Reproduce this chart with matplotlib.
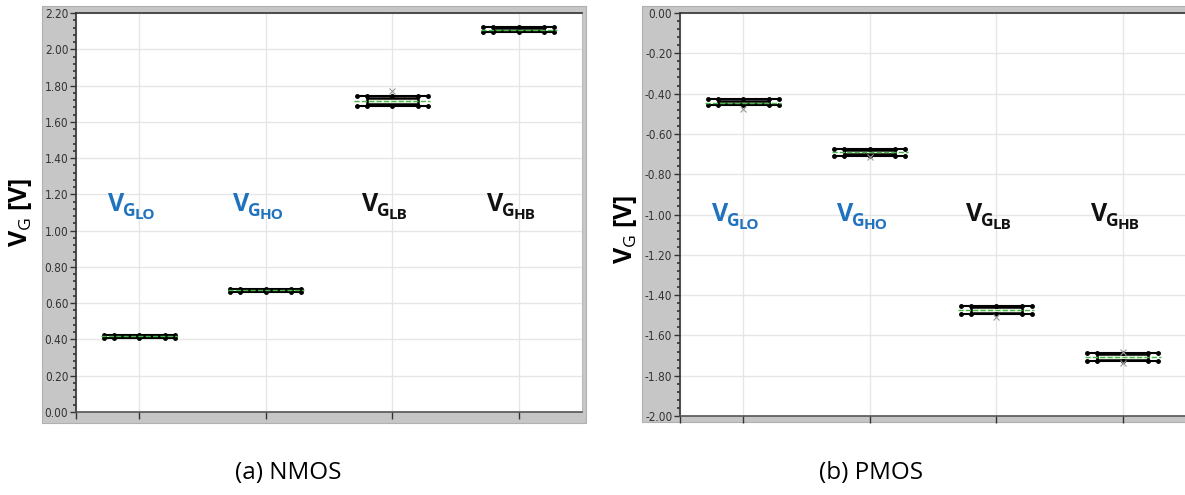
import matplotlib
matplotlib.use("Agg")
import matplotlib.pyplot as plt
from matplotlib.patches import Rectangle
from matplotlib.transforms import offset_copy
import numpy as np

plt.rcParams['mathtext.fontset'] = 'custom'
plt.rcParams['mathtext.rm'] = 'Open Sans'
plt.rcParams['mathtext.bf'] = 'Open Sans:bold'
plt.rcParams['mathtext.it'] = 'Open Sans:italic'

categories = ['LO', 'HO', 'LB', 'HB']
label_colors = ['#1f72bd', '#1f72bd', '#111111', '#111111']

nmos_min = [0.410, 0.662, 1.688, 2.093]
nmos_q1 = [0.414, 0.666, 1.698, 2.100]
nmos_med = [0.418, 0.670, 1.716, 2.108]
nmos_q3 = [0.422, 0.674, 1.734, 2.116]
nmos_max = [0.426, 0.678, 1.744, 2.123]
nmos_out = [[], [], [1.772], []]

pmos_min = [-0.458, -0.708, -1.494, -1.726]
pmos_q1 = [-0.452, -0.702, -1.488, -1.720]
pmos_med = [-0.445, -0.692, -1.474, -1.706]
pmos_q3 = [-0.437, -0.682, -1.460, -1.692]
pmos_max = [-0.427, -0.676, -1.454, -1.686]
pmos_out = [[-0.478], [-0.716], [-1.508], [-1.682, -1.738]]

nmos_yticks = [0.0, 0.2, 0.4, 0.6, 0.8, 1.0, 1.2, 1.4, 1.6, 1.8, 2.0, 2.2]
pmos_yticks = [-2.0, -1.8, -1.6, -1.4, -1.2, -1.0, -0.8, -0.6, -0.4, -0.2, 0.0]

W, H = 1185, 495
fig = plt.figure(figsize=(W / 100, H / 100), dpi=100)
fig.patch.set_facecolor('white')
renderer = fig.canvas.get_renderer()

GRAY = '#c6c6c6'

def px_rect(x0, y0, x1, y1):
    return [x0 / W, 1 - y1 / H, (x1 - x0) / W, (y1 - y0) / H]

def fmt(t):
    s = '%.2f' % t
    return '0.00' if s == '-0.00' else s

def compound_label(ax, x, y, sub, color):
    # V (big) + G (subscript) + sub (second-level subscript), placed piecewise
    parts = [('V', 18, 0), ('G', 12.5, -5), (sub, 11, -8.5)]
    # measure total width
    widths = []
    for txt, fs, _ in parts:
        t = ax.text(0, 0, txt, fontsize=fs, fontweight='bold', family='Open Sans')
        widths.append(t.get_window_extent(renderer).width)
        t.remove()
    kerns = [0, -1.5, -1.0]
    total = sum(widths) + sum(kerns)
    dx = -total / 2.0
    for (txt, fs, dy), w, k in zip(parts, widths, kerns):
        dx += k
        tr = offset_copy(ax.transData, fig=fig, x=dx, y=dy, units='dots')
        ax.text(x, y, txt, fontsize=fs, fontweight='bold', family='Open Sans',
                color=color, ha='left', va='baseline', transform=tr, zorder=7)
        dx += w

def draw_panel(ax_rect, frame, mins, q1s, meds, q3s, maxs, outs, yticks, ylim, label_y):
    fx0, fy0, fx1, fy1 = frame
    fig.patches.append(Rectangle((fx0 / W, 1 - fy1 / H), (fx1 - fx0) / W, (fy1 - fy0) / H,
                                 transform=fig.transFigure, facecolor=GRAY,
                                 edgecolor='#b0b0b0', lw=0.8, zorder=-5))
    ax = fig.add_axes(ax_rect)
    ax.set_zorder(2)
    ax.set_facecolor('white')
    ax.set_xlim(0.5, 4.5)
    ax.set_ylim(*ylim)
    xs = np.arange(1, len(categories) + 1)
    ax.set_xticks([0.5] + list(xs))
    ax.set_xticklabels([''] * (len(xs) + 1))
    ax.set_yticks(yticks)
    ax.set_yticklabels([fmt(t) for t in yticks],
                       fontsize=8.5, color='#333333',
                       family='DejaVu Sans', stretch='condensed')
    ax.yaxis.set_minor_locator(matplotlib.ticker.MultipleLocator(0.04))
    ax.tick_params(axis='y', which='major', length=4, width=1, color='#333333', pad=1.5, direction='out')
    ax.tick_params(axis='y', which='minor', length=2.5, width=1.2, color='#333333', direction='out')
    ax.tick_params(axis='x', which='major', length=5, width=1, color='#333333', direction='out')
    ax.grid(True, which='major', color='#e6e6e6', lw=1)
    ax.set_axisbelow(True)
    for s in ['top', 'left']:
        ax.spines[s].set_color('#333333')
        ax.spines[s].set_linewidth(1.2)
    ax.spines['bottom'].set_color('#555555')
    ax.spines['bottom'].set_linewidth(1.2)
    ax.spines['right'].set_color('#bbbbbb')

    for i, x in enumerate(xs):
        ax.plot([x, x], [mins[i], maxs[i]], color='black', lw=1.5, zorder=3)
        ax.add_patch(Rectangle((x - 0.2, q1s[i]), 0.4, q3s[i] - q1s[i],
                               facecolor='#eaf6e4', edgecolor='black', lw=1.8, zorder=3))
        for yv in (mins[i], maxs[i]):
            ax.plot([x - 0.28, x + 0.28], [yv, yv], color='black', lw=1.5, zorder=4)
            ax.plot([x - 0.28, x - 0.2, x, x + 0.2, x + 0.28], [yv] * 5, ls='none',
                    marker='o', ms=2.5, color='black', zorder=5)
        ax.plot([x - 0.3, x + 0.3], [meds[i], meds[i]], color='#48b848', lw=1, ls='--', zorder=6)
        for o in outs[i]:
            ax.plot([x], [o], marker='x', ms=4, color='#999999', mew=0.8, zorder=6)
        compound_label(ax, x - 0.06, label_y, categories[i], label_colors[i])
    return ax

ax1 = draw_panel(px_rect(76, 13, 582, 412), (42, 6, 586, 423),
                 nmos_min, nmos_q1, nmos_med, nmos_q3, nmos_max, nmos_out,
                 nmos_yticks, (0.0, 2.2), 1.11)
ax2 = draw_panel(px_rect(680, 13, 1186, 416), (642, 6, 1190, 422),
                 pmos_min, pmos_q1, pmos_med, pmos_q3, pmos_max, pmos_out,
                 pmos_yticks, (-2.0, 0.0), -1.03)

ylab = r'$\mathbf{V}_{\mathrm{G}}$ [V]'
fig.text(21 / W, 1 - 212 / H, ylab, rotation=90, fontsize=18, fontweight='bold',
         family='Open Sans', ha='center', va='center')
fig.text(626 / W, 1 - 229 / H, ylab, rotation=90, fontsize=18, fontweight='bold',
         family='Open Sans', ha='center', va='center')

fig.text(288 / W, 1 - 473 / H, '(a) NMOS', fontsize=17.5, family='Open Sans', ha='center', va='center')
fig.text(871 / W, 1 - 473 / H, '(b) PMOS', fontsize=17.5, family='Open Sans', ha='center', va='center')

fig.savefig('out.png', dpi=100)
